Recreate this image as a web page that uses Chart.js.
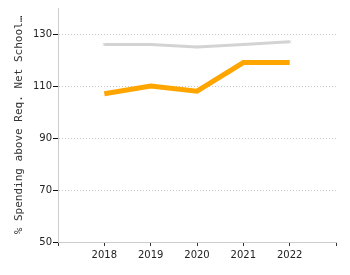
<!DOCTYPE html>
<html lang="en">
<head>
    <meta charset="UTF-8">
    <title>Spending</title>
    <script src="https://cdn.jsdelivr.net/npm/chart.js@4.4.0/dist/chart.umd.min.js"></script>
    <style>
        html, body { margin: 0; padding: 0; background: #fff; }
        #wrap { width: 350px; height: 275px; }
    </style>
</head>
<body>
<div id="wrap">
<canvas id="chart" width="350" height="275"></canvas>
</div>

<script>
    const years = [2018, 2019, 2020, 2021, 2022];
    const districtPct = [107, 110, 108, 119, 119];
    const comparePct = [126, 126, 125, 126, 127];
    const yTicks = [50, 70, 90, 110, 130];
    const yTitle = '% Spending above Req. Net School\u2026';

    const toPoints = vals => years.map((yr, i) => ({x: yr, y: vals[i]}));

    new Chart(document.getElementById('chart'), {
        type: 'line',
        data: {
            datasets: [
                {
                    label: 'Comparison',
                    data: toPoints(comparePct),
                    borderColor: '#d3d3d3',
                    backgroundColor: '#d3d3d3',
                    borderWidth: 3,
                    pointRadius: 2,
                    pointStyle: 'crossRot',
                    pointBorderWidth: 1,
                    tension: 0
                },
                {
                    label: 'District',
                    data: toPoints(districtPct),
                    borderColor: '#ffa500',
                    backgroundColor: '#ffa500',
                    borderWidth: 5,
                    pointRadius: 0,
                    tension: 0
                }
            ]
        },
        options: {
            responsive: false,
            animation: false,
            layout: {padding: {left: 0, top: 8, right: 14, bottom: 8}},
            plugins: {legend: {display: false}, tooltip: {enabled: false}},
            scales: {
                x: {
                    type: 'linear',
                    min: 2017,
                    max: 2023,
                    afterFit: s => { s.height = 25; },
                    ticks: {
                        stepSize: 1,
                        autoSkip: false,
                        maxRotation: 0,
                        color: '#222',
                        font: {family: 'DejaVu Sans', size: 10},
                        padding: 3,
                        callback: v => years.includes(v) ? String(v) : ''
                    },
                    grid: {drawOnChartArea: false, tickColor: '#333', tickLength: 4},
                    border: {color: '#ccc'}
                },
                y: {
                    min: 50,
                    max: 140,
                    afterFit: s => { s.width = 58; },
                    afterBuildTicks: s => { s.ticks = yTicks.map(v => ({value: v})); },
                    ticks: {
                        color: '#222',
                        font: {family: 'DejaVu Sans', size: 10},
                        padding: 1
                    },
                    grid: {color: '#c8c8c8', tickColor: '#111', tickLength: 5},
                    border: {color: '#ccc', dash: [1, 2]},
                    title: {
                        display: true,
                        text: yTitle,
                        color: '#333',
                        font: {family: 'DejaVu Sans Mono', size: 11},
                        padding: {top: 13, bottom: 2}
                    }
                }
            }
        }
    });
</script>
</body>
</html>
